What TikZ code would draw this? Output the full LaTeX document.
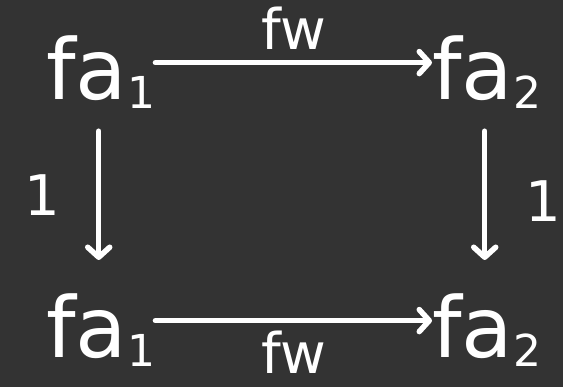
\documentclass[tikz,border=0pt]{standalone}
\usepackage{fontspec}
\setmainfont{DejaVu Sans}
\usepackage{xcolor}
\usetikzlibrary{arrows.meta}
\definecolor{bgdark}{HTML}{333333}
\newcommand{\sub}[1]{\raisebox{-9pt}{\fontsize{44}{44}\selectfont #1}}

\begin{document}
\begin{tikzpicture}[x=1pt, y=-1pt,
      obj/.style={inner sep=0pt, text=white, font=\fontsize{84}{84}\selectfont},
      lbl/.style={inner sep=0pt, text=white, font=\fontsize{56}{56}\selectfont},
      arr/.style={draw=white, line width=5.5pt, line cap=round,
                  -{Straight Barb[length=10pt, width=22pt, line width=5.5pt, round]}}]
    \fill[bgdark] (0,0) rectangle (563,387);
    \useasboundingbox (0,0) rectangle (563,387);
    \node[obj, anchor=base west] (a1t) at (46,100)  {fa\sub{1}};
    \node[obj, anchor=base west] (a2t) at (432,100) {fa\sub{2}};
    \node[obj, anchor=base west] (a1b) at (46,358)  {fa\sub{1}};
    \node[obj, anchor=base west] (a2b) at (432,358) {fa\sub{2}};
    \draw[arr] ([yshift=10pt]a1t.east) -- ([yshift=10pt]a2t.west)
      node[lbl, midway, above=10pt]{fw};
    \draw[arr] ([yshift=10pt]a1b.east) -- ([yshift=10pt]a2b.west)
      node[lbl, midway, below=8pt]{fw};
    \draw[arr] ([xshift=-2pt,yshift=-22pt]a1t.south) -- ([xshift=-2pt,yshift=34pt]a1b.north)
      node[lbl, midway, left=36pt]{1};
    \draw[arr] ([xshift=-2pt,yshift=-22pt]a2t.south) -- ([xshift=-2pt,yshift=34pt]a2b.north)
      node[lbl, midway, right=38pt, yshift=-6pt]{1};
  \end{tikzpicture}
\end{document}
